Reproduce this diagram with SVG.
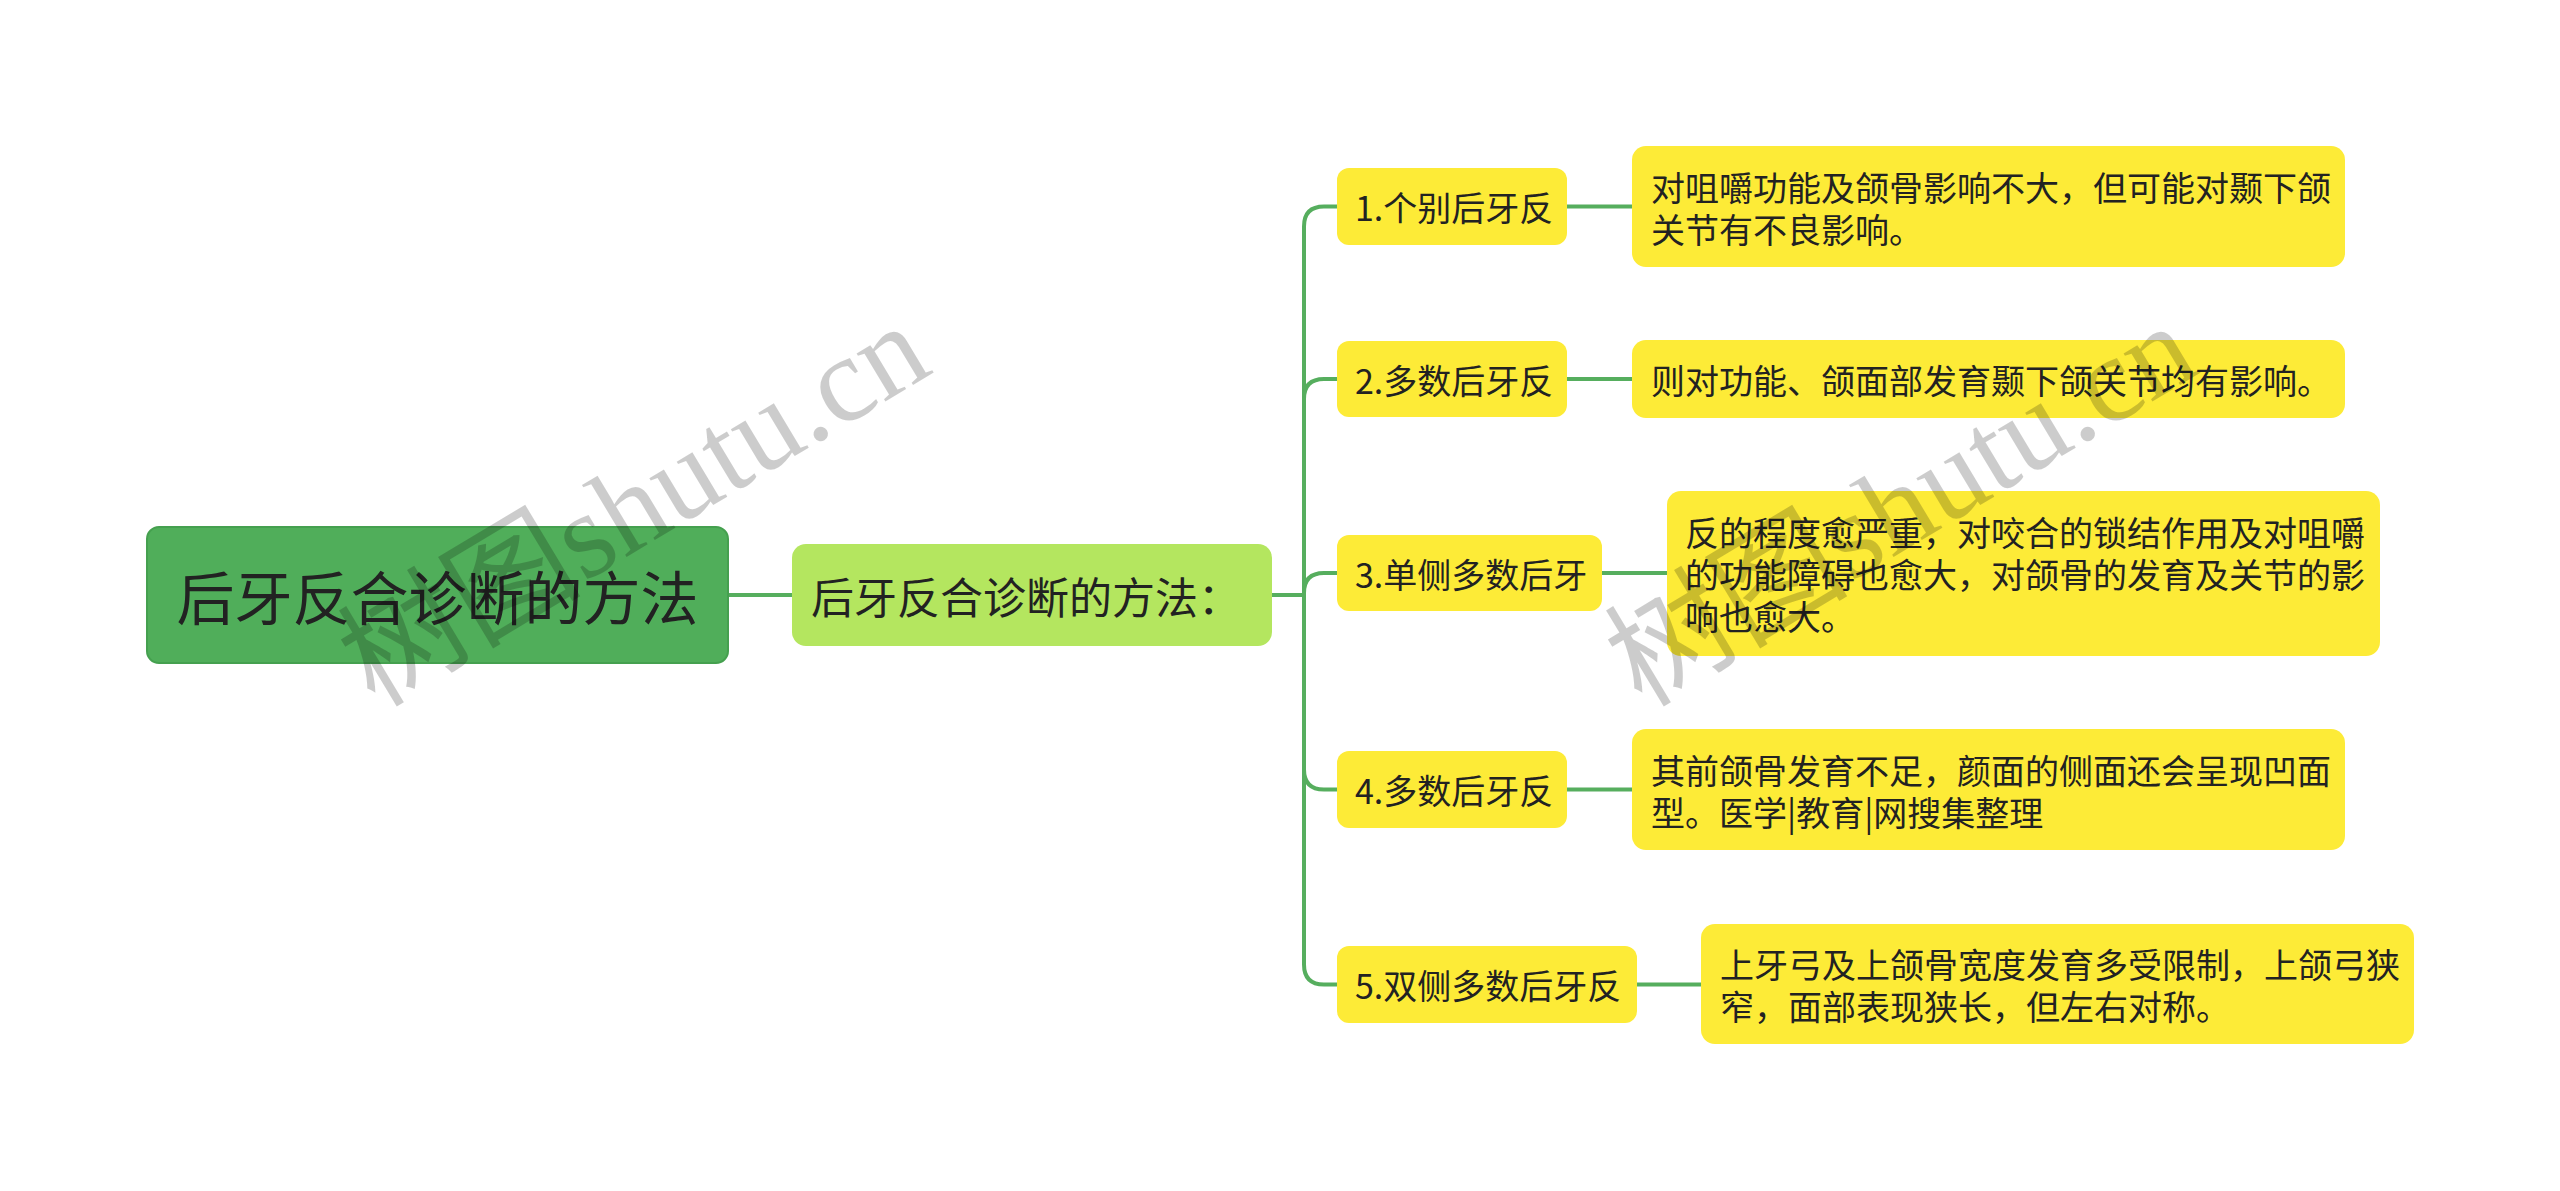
<svg xmlns="http://www.w3.org/2000/svg" width="2560" height="1191" viewBox="0 0 2560 1191">
<style>
.t{font-family:"Noto Sans CJK SC","Noto Sans",sans-serif;fill:#222;dominant-baseline:central}
.leaf rect,.child rect{fill:#FDEB37}
.c{fill:none;stroke:#56AE5E;stroke-width:4}
.s34{font-size:34px}
.wm{font-family:"Liberation Serif","Noto Sans CJK SC",serif;font-size:122px;fill:#000;fill-opacity:0.2}
</style>
<rect width="2560" height="1191" fill="#fff"/>
<g id="connectors">
<path class="c" d="M728,595 H792"/>
<path class="c" d="M1272,595 H1304 V226.5 Q1304,206.5 1324,206.5 H1337"/>
<path class="c" d="M1272,595 H1304 V399 Q1304,379 1324,379 H1337"/>
<path class="c" d="M1272,595 H1304 V593 Q1304,573 1324,573 H1337"/>
<path class="c" d="M1272,595 H1304 V769.5 Q1304,789.5 1324,789.5 H1337"/>
<path class="c" d="M1272,595 H1304 V964.5 Q1304,984.5 1324,984.5 H1337"/>
<path class="c" d="M1567,206.5 H1632"/>
<path class="c" d="M1567,379 H1632"/>
<path class="c" d="M1602,573 H1667"/>
<path class="c" d="M1567,789.5 H1632"/>
<path class="c" d="M1637,984.5 H1701"/>
</g>
<g id="root">
<rect x="147" y="527" width="581" height="136" rx="12" fill="#50AE5A" stroke="#45A04F" stroke-width="2"/>
<text class="t" x="437.5" y="595" text-anchor="middle" font-size="58" fill="#2a2a2a">后牙反合诊断的方法</text>
</g>
<g id="main">
<rect x="792" y="544" width="480" height="102" rx="14" fill="#B4E65F"/>
<text class="t" x="811" y="595" font-size="43">后牙反合诊断的方法：</text>
</g>
<g id="c1" class="child">
<rect x="1337" y="168" width="230" height="77" rx="12"/>
<text class="t s34" x="1355" y="206.5">1.个别后牙反</text>
</g>
<g id="c2" class="child">
<rect x="1337" y="341" width="230" height="76" rx="12"/>
<text class="t s34" x="1355" y="379">2.多数后牙反</text>
</g>
<g id="c3" class="child">
<rect x="1337" y="535" width="265" height="76" rx="12"/>
<text class="t s34" x="1355" y="573">3.单侧多数后牙</text>
</g>
<g id="c4" class="child">
<rect x="1337" y="751" width="230" height="77" rx="12"/>
<text class="t s34" x="1355" y="789.5">4.多数后牙反</text>
</g>
<g id="c5" class="child">
<rect x="1337" y="946" width="300" height="77" rx="12"/>
<text class="t s34" x="1355" y="984.5">5.双侧多数后牙反</text>
</g>
<g id="l1" class="leaf">
<rect x="1632" y="146" width="713" height="121" rx="14"/>
<text class="t s34" x="1651" y="186">对咀嚼功能及颌骨影响不大，但可能对颞下颌</text>
<text class="t s34" x="1651" y="228">关节有不良影响。</text>
</g>
<g id="l2" class="leaf">
<rect x="1632" y="340" width="713" height="78" rx="14"/>
<text class="t s34" x="1651" y="379">则对功能、颌面部发育颞下颌关节均有影响。</text>
</g>
<g id="l3" class="leaf">
<rect x="1667" y="491" width="713" height="165" rx="14"/>
<text class="t s34" x="1685" y="531">反的程度愈严重，对咬合的锁结作用及对咀嚼</text>
<text class="t s34" x="1685" y="573">的功能障碍也愈大，对颌骨的发育及关节的影</text>
<text class="t s34" x="1685" y="615">响也愈大。</text>
</g>
<g id="l4" class="leaf">
<rect x="1632" y="729" width="713" height="121" rx="14"/>
<text class="t s34" x="1651" y="769">其前颌骨发育不足，颜面的侧面还会呈现凹面</text>
<text class="t s34" x="1651" y="811">型。医学|教育|网搜集整理</text>
</g>
<g id="l5" class="leaf">
<rect x="1701" y="924" width="713" height="120" rx="14"/>
<text class="t s34" x="1720" y="963.5">上牙弓及上颌骨宽度发育多受限制，上颌弓狭</text>
<text class="t s34" x="1720" y="1005.5">窄，面部表现狭长，但左右对称。</text>
</g>
<g id="watermark">
<text class="wm" x="655" y="540" text-anchor="middle" transform="rotate(-31 655 540)">树图shutu.cn</text>
<text class="wm" x="1922" y="540" text-anchor="middle" transform="rotate(-31 1922 540)">树图shutu.cn</text>
</g>
</svg>
